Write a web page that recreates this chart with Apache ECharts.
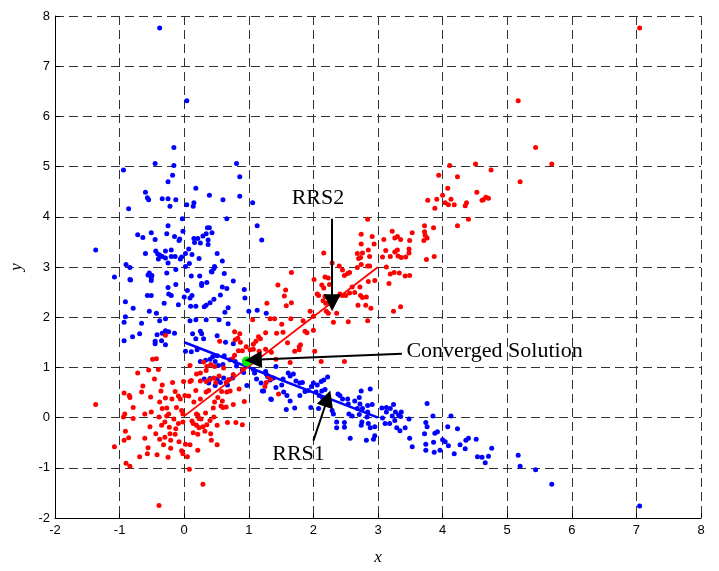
<!DOCTYPE html>
<html>
<head>
<meta charset="utf-8">
<script src="https://cdn.jsdelivr.net/npm/echarts@6/dist/echarts.min.js"></script>
<style>
  html, body { margin: 0; padding: 0; background: #fff; }
  #chart { width: 719px; height: 571px; }
</style>
</head>
<body>
<div id="chart"></div>
<script>
// axis ticks
const xTicks = [-2, -1, 0, 1, 2, 3, 4, 5, 6, 7, 8]
const yTicks = [-2, -1, 0, 1, 2, 3, 4, 5, 6, 7, 8]

// blue cluster
const bluePoints = [
  [-0.38, 7.76], [0.04, 6.31], [-0.16, 5.38], [-0.45, 5.06], [-0.16, 5.02], [-0.18, 4.83], [-0.25, 4.70], [-0.94, 4.93], [0.81, 5.06], [0.86, 4.80], [0.18, 4.57],
  [-0.60, 4.49], [-0.57, 4.38], [-0.55, 4.34], [-0.86, 4.16], [-0.34, 4.36], [-0.25, 4.36], [-0.22, 4.21], [-0.13, 4.34], [0.04, 4.24], [0.15, 4.28], [0.14, 4.21], [0.39, 4.43], [0.60, 4.34], [0.86, 4.41], [1.06, 4.28], [0.66, 3.96], [-0.03, 3.96], [1.13, 3.82], [1.20, 3.54],
  [-1.37, 3.34], [-0.72, 3.64], [-0.64, 3.59], [-0.51, 3.68], [-0.45, 3.55], [-0.25, 3.82], [-0.27, 3.66], [-0.15, 3.61], [-0.08, 3.53], [-0.07, 3.56], [-0.02, 3.71],
  [-0.44, 3.32], [-0.41, 3.26], [-0.38, 3.24], [-0.40, 3.16], [-0.29, 3.32], [-0.20, 3.34], [-0.29, 3.18], [-0.34, 3.21], [-0.60, 3.27],
  [-0.20, 3.21], [-0.14, 3.21], [-0.06, 3.16], [-0.04, 3.20], [0.02, 3.27], [0.07, 3.36], [0.12, 3.25], [0.23, 3.17],
  [0.15, 3.57], [0.21, 3.57], [0.25, 3.48], [0.16, 3.49], [0.29, 3.62], [0.34, 3.66], [0.36, 3.78], [0.39, 3.78], [0.37, 3.54], [0.37, 3.45], [0.43, 3.68],
  [0.51, 3.27], [0.59, 3.12], [0.47, 3.01], [0.46, 2.97], [0.43, 2.90], [0.02, 3.01], [0.08, 3.07], [-0.25, 3.08], [-0.13, 2.95], [-0.90, 3.05], [-0.84, 2.99], [-1.08, 2.80], [-0.84, 2.75], [-0.83, 2.74],
  [-0.54, 2.88], [-0.56, 2.84], [-0.50, 2.83], [-0.51, 2.78], [-0.51, 2.73], [-0.27, 2.88], [-0.25, 2.59], [-0.13, 2.65], [0.11, 2.82], [0.24, 2.82], [0.27, 2.67], [0.27, 2.63], [0.35, 2.69], [0.42, 2.91], [0.62, 2.87], [0.76, 2.72], [0.59, 2.60], [0.66, 2.57], [0.05, 2.53],
  [-0.91, 2.31], [-0.79, 2.18], [-0.57, 2.43], [-0.51, 2.43], [-0.24, 2.46], [-0.20, 2.43], [-0.31, 2.28], [-0.09, 2.25], [0.00, 2.40], [0.09, 2.38], [0.12, 2.43], [0.18, 2.22], [0.10, 2.22], [0.31, 2.21], [0.34, 2.24], [0.40, 2.29], [0.46, 2.36], [0.56, 2.44], [0.68, 2.19], [0.63, 2.10], [0.93, 2.55], [0.94, 2.38],
  [-0.91, 2.01], [-0.93, 1.90], [-0.54, 2.12], [-0.66, 1.88], [-0.43, 2.08], [-0.38, 1.93], [-0.29, 1.97], [0.09, 1.93], [0.18, 1.95], [0.34, 1.95], [0.54, 1.95], [0.68, 1.87], [1.00, 2.12], [1.13, 2.14], [1.27, 2.08],
  [-0.93, 1.53], [-0.80, 1.61], [-0.69, 1.67], [-0.45, 1.52], [-0.45, 1.47], [-0.42, 1.65], [-0.35, 1.53], [-0.34, 1.68], [-0.29, 1.73], [-0.24, 1.71], [-0.29, 1.45], [-0.15, 1.68], [0.13, 1.67], [0.18, 1.57], [0.25, 1.72], [0.27, 1.67], [0.30, 1.57], [0.51, 1.63], [0.64, 1.50], [0.76, 1.47], [0.02, 1.32], [0.11, 1.31], [0.20, 1.35],
  [0.25, 1.12], [0.33, 1.14], [0.40, 1.16], [0.44, 1.21], [0.51, 1.23], [0.48, 1.12], [0.53, 1.04], [0.60, 1.06], [0.62, 1.23], [0.71, 1.15], [0.79, 1.12], [0.81, 1.03], [0.90, 0.95], [0.92, 0.90], [0.99, 1.04], [1.07, 0.96], [1.12, 0.77], [1.21, 0.53], [1.23, 0.53], [1.35, 0.36], [1.26, 0.92], [1.29, 0.82], [1.38, 0.79],
  [0.40, 0.78], [0.51, 0.77], [0.48, 0.64], [0.56, 0.70], [0.67, 0.65], [0.31, 0.77], [0.38, 0.69], [0.61, 0.79], [0.75, 0.79], [0.97, 0.64], [1.09, 0.89], [1.19, 0.69],
  [1.27, 0.87], [1.42, 1.02], [1.33, 0.75], [1.42, 0.60], [1.51, 0.65], [1.53, 0.77], [1.61, 0.89], [1.64, 0.83], [1.69, 0.87], [1.73, 0.73], [1.79, 0.69], [1.83, 0.70], [1.54, 0.51], [1.59, 0.44], [1.64, 0.33], [1.58, 0.16], [1.71, 0.19], [1.34, 0.37],
  [1.79, 0.44], [1.87, 0.52], [1.92, 0.54], [1.97, 0.62], [2.00, 0.69], [2.06, 0.65], [2.12, 0.72], [2.16, 0.75], [2.22, 0.81], [2.13, 0.53], [2.18, 0.56], [2.04, 0.51], [2.09, 0.44], [2.14, 0.40], [2.20, 0.37], [1.96, 0.20], [2.08, 0.18],
  [2.29, 0.14], [2.31, 0.07], [2.38, 0.47], [2.41, 0.44], [2.36, -0.09], [2.48, -0.10], [2.48, -0.19], [2.45, 0.37], [2.53, 0.37], [2.54, 0.27], [2.64, 0.33], [2.71, 0.40], [2.72, 0.27], [2.74, 0.53], [2.88, 0.57],
  [2.68, 0.18], [2.76, 0.18], [2.84, 0.24], [2.91, 0.26], [2.84, 0.11], [2.55, 0.07], [2.60, 0.03], [2.71, 0.06], [2.75, -0.09], [2.74, -0.15], [2.85, -0.12], [2.88, -0.20], [2.83, 0.01], [2.95, -0.18], [2.95, -0.36], [2.93, -0.43], [2.82, -0.45], [2.57, -0.41], [2.36, -0.20],
  [3.06, 0.19], [3.13, 0.20], [3.19, 0.18], [3.24, 0.26], [3.13, 0.11], [3.07, -0.01], [3.11, -0.12], [3.18, -0.12], [3.22, 0.03], [3.27, 0.11], [3.32, 0.05], [3.26, -0.06], [3.29, -0.20], [3.34, -0.26], [3.35, 0.02], [3.36, 0.11], [3.42, -0.20], [3.48, -0.03], [3.49, -0.41], [3.53, -0.58],
  [3.76, 0.28], [3.74, -0.10], [3.76, -0.18], [3.72, -0.32], [3.74, -0.53], [3.74, -0.65], [3.85, 0.03], [3.88, -0.31], [3.86, -0.49], [3.87, -0.69], [3.92, -0.28], [3.96, -0.65], [4.00, -0.44], [4.04, -0.48], [4.08, -0.18], [4.13, 0.03], [4.09, -0.56], [4.18, -0.72],
  [4.23, -0.22], [4.27, -0.54], [4.36, -0.45], [4.40, -0.41], [4.52, -0.43], [4.35, -0.62], [4.54, -0.78], [4.61, -0.79], [4.66, -0.90], [4.71, -0.77], [4.76, -0.61],
  [5.17, -0.75], [5.20, -0.97], [5.44, -1.04], [5.69, -1.33], [7.05, -1.76]
]

// red cluster
const redPoints = [
  [7.05, 7.76], [5.17, 6.31], [5.44, 5.38], [5.69, 5.05], [4.75, 4.93], [5.20, 4.70], [4.11, 5.02], [4.51, 5.05], [3.94, 4.83], [4.23, 4.80], [4.08, 4.57], [4.67, 4.39], [4.63, 4.34], [4.71, 4.37],
  [4.00, 4.43], [3.77, 4.33], [3.91, 4.35], [3.88, 4.17], [4.04, 4.28], [4.09, 4.24], [4.18, 4.24], [4.13, 4.35], [4.35, 4.22], [4.37, 4.28], [4.53, 4.49], [4.61, 4.33], [4.40, 3.95], [4.23, 3.82], [2.84, 3.95],
  [3.22, 3.71], [3.26, 3.58], [3.30, 3.61], [3.35, 3.55], [3.53, 3.68], [3.49, 3.53], [3.72, 3.82], [3.72, 3.70], [3.73, 3.63], [3.76, 3.58], [3.71, 3.53], [3.86, 3.78], [3.09, 3.55], [2.94, 3.46], [2.91, 3.61],
  [2.74, 3.65], [2.74, 3.46], [2.85, 3.34], [2.68, 3.27], [2.73, 3.19], [2.76, 3.28], [2.70, 3.17], [2.87, 3.21], [3.07, 3.20], [3.12, 3.33], [3.19, 3.21], [3.26, 3.30], [3.30, 3.34], [3.31, 3.22], [3.36, 3.19], [3.43, 3.20], [3.48, 3.36], [3.48, 3.28], [3.75, 3.15], [3.87, 3.21],
  [2.68, 2.99], [2.74, 3.05], [2.84, 3.02], [2.87, 3.02], [3.13, 3.00], [3.19, 2.86], [3.25, 2.89], [3.33, 2.88], [3.42, 2.82], [3.49, 2.83], [3.17, 2.67], [2.40, 3.02], [2.45, 2.94], [2.53, 2.87], [2.56, 2.89], [2.48, 2.83], [2.29, 3.08], [2.16, 3.28],
  [2.18, 2.80], [2.23, 2.78], [2.13, 2.64], [2.16, 2.58], [2.25, 2.65], [2.01, 2.75], [1.66, 2.89], [1.45, 2.64], [1.57, 2.54], [1.55, 2.42], [1.28, 2.28], [1.58, 2.23], [1.66, 2.29],
  [2.06, 2.46], [2.08, 2.43], [2.18, 2.41], [2.15, 2.33], [2.19, 2.28], [2.23, 2.08], [2.20, 2.12], [2.36, 2.08], [2.31, 1.90], [1.95, 2.12], [2.00, 2.02], [2.41, 2.46], [2.45, 2.43], [2.50, 2.43], [2.56, 2.48],
  [2.60, 2.60], [2.64, 2.49], [2.72, 2.60], [2.73, 2.43], [2.76, 2.39], [2.82, 2.40], [2.69, 2.24], [2.81, 2.24], [2.89, 2.18], [2.84, 1.93], [2.54, 1.91], [2.95, 2.73], [2.85, 2.71], [3.24, 2.12], [3.35, 2.21],
  [1.33, 1.97], [1.40, 1.97], [1.65, 1.97], [1.51, 1.86], [1.84, 1.93], [1.87, 1.72], [1.90, 1.69], [2.00, 1.74], [1.26, 1.69], [1.43, 1.68], [1.53, 1.70], [1.60, 1.49], [1.71, 1.32], [1.78, 1.35], [1.80, 1.45], [2.02, 1.32], [1.35, 1.30],
  [-0.29, 1.64], [0.55, 1.52], [0.78, 1.71], [0.86, 1.67], [0.87, 1.50], [0.79, 1.55], [0.83, 1.58], [1.06, 1.95], [1.15, 1.61], [1.18, 1.57], [1.11, 1.52], [1.07, 1.46], [1.02, 1.35], [1.26, 1.36], [0.96, 1.41],
  [1.78, 1.41], [2.12, 1.12], [2.48, 1.12], [1.64, 1.10], [1.42, 1.16], [1.46, 0.47], [1.27, 0.70], [1.25, 0.62], [1.34, 0.77], [1.30, 0.83],
  [-1.37, 0.26], [-1.08, -0.58], [-0.93, 0.49], [-0.92, 0.07], [-0.94, 0.01], [-0.91, -0.27], [-0.93, -0.45], [-0.90, -0.91], [-0.84, -0.97], [-0.85, 0.44], [-0.84, 0.40], [-0.79, 0.20], [-0.79, -0.02], [-0.86, -0.40],
  [-0.72, 0.89], [-0.64, 0.63], [-0.66, 0.51], [-0.69, -0.78], [-0.61, -0.41], [-0.56, -0.60], [-0.57, -0.72], [-0.55, 0.95], [-0.49, 1.16], [-0.43, 1.17], [-0.40, 0.96],
  [-0.61, 0.07], [-0.52, 0.41], [-0.51, 0.11], [-0.53, -0.18], [-0.44, -0.32], [-0.42, -0.74], [-0.39, -1.75],
  [-0.46, 0.77], [-0.34, 0.65], [-0.36, 0.53], [-0.38, 0.31], [-0.34, 0.18], [-0.39, 0.01], [-0.35, -0.15], [-0.38, -0.43], [-0.30, -0.39], [-0.32, -0.54], [-0.25, -0.79],
  [-0.29, 0.39], [-0.27, 0.19], [-0.24, 0.07], [-0.27, 0.03], [-0.30, -0.09], [-0.23, -0.19], [-0.22, -0.32], [-0.21, -0.45], [-0.21, -0.61],
  [-0.18, 0.70], [-0.14, 0.52], [-0.19, 0.37], [-0.12, 0.20], [-0.16, -0.03], [-0.13, -0.22], [-0.14, -0.33],
  [-0.09, 0.43], [-0.06, 0.37], [-0.04, 0.14], [-0.02, 0.07], [-0.09, -0.12], [-0.02, -0.09], [-0.08, -0.48], [-0.04, -0.66], [-0.02, -0.72], [0.02, -0.53], [-0.01, 0.72], [0.01, 0.44],
  [0.05, -0.78], [0.08, -1.03], [0.09, -0.54], [0.09, 0.72], [0.11, 0.74], [0.07, 0.43], [0.19, 0.87], [0.25, 0.89],
  [0.12, -0.07], [0.14, -0.12], [0.19, -0.15], [0.19, 0.07], [0.21, 0.05], [0.23, -0.02], [0.26, -0.03], [0.14, -0.30], [0.21, -0.33], [0.23, -0.20], [0.29, -0.18], [0.32, -0.27], [0.21, -0.65], [0.29, -1.33],
  [0.15, 0.31], [0.25, 0.37], [0.18, 0.54], [0.34, 0.51], [0.25, 0.73], [0.34, 0.72], [0.40, 0.76], [0.38, 0.54],
  [0.33, 0.09], [0.40, -0.06], [0.35, -0.14], [0.41, -0.32], [0.42, -0.45], [0.51, -0.54], [0.45, 0.19], [0.46, 0.01], [0.51, -0.15], [0.47, 0.31],
  [0.52, 0.40], [0.57, 0.23], [0.60, 0.20], [0.59, 0.33], [0.46, 0.79], [0.49, 0.70], [0.54, 0.83], [0.65, 0.70], [0.69, 0.76], [0.58, 0.52], [0.66, 0.51], [0.71, 0.53],
  [0.65, 0.21], [0.67, -0.10], [0.76, 0.26], [0.80, -0.10], [0.90, -0.14], [0.85, 0.57], [0.93, 0.32],
  [0.75, 1.17], [0.78, 1.24], [0.84, 1.33], [0.90, 1.33], [1.07, 1.36], [1.16, 1.32], [0.34, 0.94], [0.35, 1.02], [0.30, 1.11], [0.41, 1.06], [0.47, 1.02], [0.09, 1.04], [0.61, 0.99], [0.76, 0.86], [0.91, 0.96]
]

// fitted directions and converged point
const rrs1Line = [[0, 1.5], [3, 0]]
const rrs2Line = [[0, 0.03], [3, 3.0]]
const solution = [[0.97, 1.12]]

// annotations: [text, x, y]
const labels = [
  ['RRS2', 2.07, 4.38],
  ['RRS1', 1.77, -0.72]
]
const solutionLabel = ['Converged Solution', 3.44, 1.33]
const arrows = [
  [[2.29, 3.96], [2.29, 2.29]],
  [[3.37, 1.27], [1.07, 1.15]],
  [[2.00, -0.46], [2.22, 0.38]]
]

const chart = echarts.init(document.getElementById('chart'))

const serifFont = 'Liberation Serif'
const dashed = { color: '#333', width: 1, type: [9, 5] }

const option = {
  animation: false,
  grid: { left: 50, right: 18, top: 16, bottom: 47 },
  xAxis: {
    type: 'value',
    min: xTicks[0],
    max: xTicks[xTicks.length - 1],
    interval: 1,
    name: 'x',
    nameLocation: 'middle',
    nameGap: 31,
    nameTextStyle: { fontFamily: serifFont, fontStyle: 'italic', fontSize: 17, color: '#000' },
    axisLine: { show: true, onZero: false, lineStyle: { color: '#000', width: 1 } },
    axisTick: { show: true, inside: true, length: 5, lineStyle: { color: '#000' } },
    axisLabel: { color: '#000', fontFamily: 'Liberation Sans', fontSize: 13, margin: 6 },
    splitLine: { show: true, lineStyle: dashed }
  },
  yAxis: {
    type: 'value',
    min: yTicks[0],
    max: yTicks[yTicks.length - 1],
    interval: 1,
    name: 'y',
    nameLocation: 'middle',
    nameGap: 30,
    nameTextStyle: { fontFamily: serifFont, fontStyle: 'italic', fontSize: 17, color: '#000' },
    axisLine: { show: true, onZero: false, lineStyle: { color: '#000', width: 1 } },
    axisTick: { show: true, inside: true, length: 5, lineStyle: { color: '#000' } },
    axisLabel: { color: '#000', fontFamily: 'Liberation Sans', fontSize: 13, margin: 5 },
    splitLine: { show: true, lineStyle: dashed }
  },
  series: [
    {
      name: 'blue',
      type: 'scatter',
      data: bluePoints,
      symbolSize: 5,
      itemStyle: { color: '#0000ff', opacity: 1 },
      z: 3
    },
    {
      name: 'red',
      type: 'scatter',
      data: redPoints,
      symbolSize: 5,
      itemStyle: { color: '#ff0000', opacity: 1 },
      z: 3
    },
    {
      name: 'RRS1',
      type: 'line',
      data: rrs1Line,
      symbol: 'none',
      lineStyle: { color: '#0000ff', width: 2.6 },
      z: 4
    },
    {
      name: 'RRS2',
      type: 'line',
      data: rrs2Line,
      symbol: 'none',
      lineStyle: { color: '#ff0000', width: 1.8 },
      z: 4
    },
    {
      name: 'solution',
      type: 'scatter',
      data: solution,
      symbolSize: 10,
      itemStyle: { color: '#00ee00', opacity: 1 },
      z: 5
    },
    {
      // arrows
      type: 'lines',
      coordinateSystem: 'cartesian2d',
      data: arrows.map(a => ({ coords: a })),
      symbol: ['none', 'triangle'],
      symbolSize: [9, 17],
      lineStyle: { color: '#000', width: 2, opacity: 1 },
      itemStyle: { color: '#000', opacity: 1 },
      z: 6
    },
    {
      type: 'scatter',
      data: labels.map(l => ({ value: [l[1], l[2]], name: l[0] })),
      symbolSize: 0,
      itemStyle: { opacity: 1 },
      label: {
        show: true,
        position: 'inside',
        formatter: p => p.name,
        fontFamily: serifFont,
        fontSize: 22,
        color: '#000'
      },
      z: 7
    },
    {
      type: 'scatter',
      data: [{ value: [solutionLabel[1], solutionLabel[2]], name: solutionLabel[0] }],
      symbolSize: 0,
      itemStyle: { opacity: 1 },
      label: {
        show: true,
        position: 'right',
        distance: 0,
        formatter: p => p.name,
        fontFamily: serifFont,
        fontSize: 22,
        color: '#000'
      },
      z: 7
    }
  ]
}

chart.setOption(option)
</script>
</body>
</html>
